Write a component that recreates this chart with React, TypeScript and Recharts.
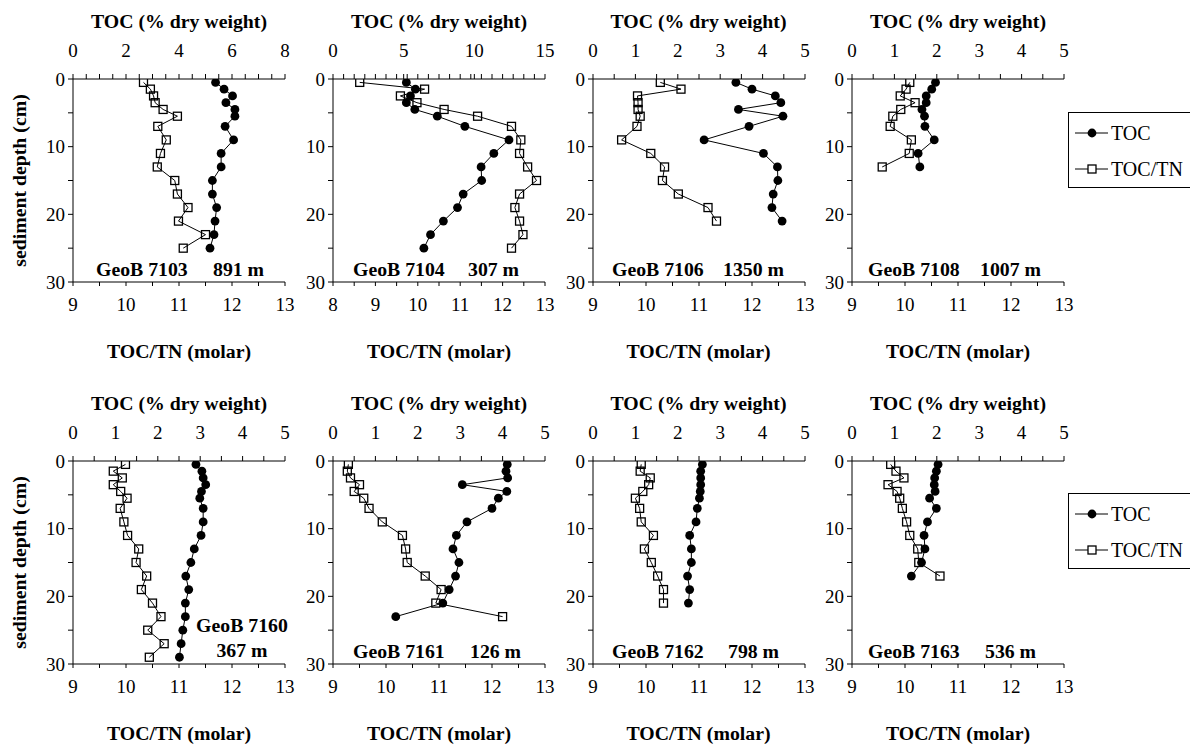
import React from 'react';
import { ScatterChart, Scatter, XAxis, YAxis } from 'recharts';

// ---------- data ----------
const depth7103 = [0.5, 1.5, 2.5, 3.5, 4.5, 5.5, 7, 9, 11, 13, 15, 17, 19, 21, 23, 25];
const toc7103 = [5.38, 5.7, 6.02, 5.77, 6.11, 6.11, 5.74, 6.06, 5.59, 5.59, 5.26, 5.26, 5.42, 5.36, 5.32, 5.17];
const tn7103 = [10.33, 10.46, 10.52, 10.55, 10.7, 10.97, 10.6, 10.76, 10.65, 10.59, 10.92, 10.97, 11.17, 10.99, 11.5, 11.08];

const depth7104 = [0.5, 1.5, 2.5, 3.5, 4.5, 5.5, 7, 9, 11, 13, 15, 17, 19, 21, 23, 25];
const toc7104 = [5.19, 5.83, 5.48, 5.19, 5.79, 7.38, 9.33, 12.45, 11.38, 10.48, 10.52, 9.21, 8.81, 7.81, 6.9, 6.43];
const tn7104 = [8.63, 10.16, 9.59, 9.98, 10.62, 11.41, 12.21, 12.43, 12.4, 12.59, 12.8, 12.4, 12.29, 12.4, 12.48, 12.21];

const depth7106 = [0.5, 1.5, 2.5, 3.5, 4.5, 5.5, 7, 9, 11, 13, 15, 17, 19, 21];
const toc7106 = [3.37, 3.75, 4.3, 4.43, 3.43, 4.48, 3.68, 2.62, 4.02, 4.35, 4.36, 4.25, 4.22, 4.46];
const tn7106 = [10.27, 10.66, 9.84, 9.85, 9.85, 9.89, 9.83, 9.54, 10.09, 10.35, 10.31, 10.61, 11.17, 11.33];

const depth7108 = [0.5, 1.5, 2.5, 3.5, 4.5, 5.5, 7, 9, 11, 13];
const toc7108 = [1.97, 1.88, 1.75, 1.75, 1.65, 1.71, 1.72, 1.94, 1.56, 1.6];
const tn7108 = [10.09, 10.02, 9.91, 10.19, 9.92, 9.77, 9.72, 10.12, 10.08, 9.57];

const depth7160 = [0.5, 1.5, 2.5, 3.5, 4.5, 5.5, 7, 9, 11, 13, 15, 17, 19, 21, 23, 25, 27, 29];
const toc7160 = [2.9, 3.04, 3.07, 3.13, 3.03, 2.99, 3.07, 3.07, 3.02, 2.86, 2.78, 2.66, 2.73, 2.65, 2.65, 2.59, 2.55, 2.51];
const tn7160 = [9.99, 9.76, 9.93, 9.76, 9.9, 10.02, 9.89, 9.96, 10.03, 10.24, 10.19, 10.39, 10.29, 10.5, 10.66, 10.41, 10.72, 10.44];

const depth7161 = [0.5, 1.5, 2.5, 3.5, 4.5, 5.5, 7, 9, 11, 13, 15, 17, 19, 21, 23];
const toc7161 = [4.11, 4.08, 4.12, 3.05, 4.1, 3.9, 3.75, 3.16, 2.91, 2.83, 2.97, 2.89, 2.74, 2.59, 1.48];
const tn7161 = [9.29, 9.27, 9.33, 9.5, 9.4, 9.58, 9.68, 9.93, 10.31, 10.37, 10.4, 10.74, 11.04, 10.94, 12.2];

const depth7162 = [0.5, 1.5, 2.5, 3.5, 4.5, 5.5, 7, 9, 11, 13, 15, 17, 19, 21];
const toc7162 = [2.58, 2.54, 2.54, 2.54, 2.53, 2.51, 2.46, 2.43, 2.28, 2.32, 2.32, 2.23, 2.28, 2.25];
const tn7162 = [9.91, 9.89, 10.08, 10.05, 9.94, 9.8, 9.88, 9.91, 10.14, 9.97, 10.1, 10.22, 10.33, 10.33];

const depth7163 = [0.5, 1.5, 2.5, 3.5, 4.5, 5.5, 7, 9, 11, 13, 15, 17];
const toc7163 = [2.03, 1.99, 1.95, 1.94, 1.96, 1.83, 1.99, 1.78, 1.7, 1.72, 1.64, 1.4];
const tn7163 = [9.73, 9.83, 9.98, 9.68, 9.85, 9.9, 9.95, 10.03, 10.09, 10.24, 10.26, 10.66];

const coreNames = ['GeoB 7103', 'GeoB 7104', 'GeoB 7106', 'GeoB 7108', 'GeoB 7160', 'GeoB 7161', 'GeoB 7162', 'GeoB 7163'];
const waterDepths = ['891 m', '307 m', '1350 m', '1007 m', '367 m', '126 m', '798 m', '536 m'];

const tocTitle = 'TOC (% dry weight)';
const tnTitle = 'TOC/TN (molar)';
const depthTitle = 'sediment depth (cm)';
const legendNames = ['TOC', 'TOC/TN'];

const depthTicks = [0, 5, 10, 15, 20, 25, 30];
const depthLabels = [0, 10, 20, 30];

// ---------- layout ----------
const FONT = '"Times New Roman", "Liberation Serif", serif';
const PLOT_W = 212;
const PLOT_H = 203;
const Y_W = 65;
const TOP_H = 75;
const BOT_H = 80;
const RIGHT_M = 10;
const COL_X = [73, 333, 592.5, 852];
const ROW_Y = [79, 461];
const TITLE_SIZE = 19.8;
const TICK_SIZE = 19;

const steps = (a: number, b: number, s: number) => {
  const out: number[] = [];
  for (let i = 0; a + i * s <= b + 1e-9; i++) out.push(+(a + i * s).toFixed(4));
  return out;
};

type Cfg = {
  depth: number[]; toc: number[]; tn: number[];
  tocMax: number; tocMajor: number[]; tocMinor: number;
  tnMin: number;
  col: number; row: number;
};

const panels: Cfg[] = [
  { depth: depth7103, toc: toc7103, tn: tn7103, tocMax: 8, tocMajor: [0, 2, 4, 6, 8], tocMinor: 0.5, tnMin: 9, col: 0, row: 0 },
  { depth: depth7104, toc: toc7104, tn: tn7104, tocMax: 15, tocMajor: [0, 5, 10, 15], tocMinor: 0.75, tnMin: 8, col: 1, row: 0 },
  { depth: depth7106, toc: toc7106, tn: tn7106, tocMax: 5, tocMajor: [0, 1, 2, 3, 4, 5], tocMinor: 0.5, tnMin: 9, col: 2, row: 0 },
  { depth: depth7108, toc: toc7108, tn: tn7108, tocMax: 5, tocMajor: [0, 1, 2, 3, 4, 5], tocMinor: 0.5, tnMin: 9, col: 3, row: 0 },
  { depth: depth7160, toc: toc7160, tn: tn7160, tocMax: 5, tocMajor: [0, 1, 2, 3, 4, 5], tocMinor: 0.5, tnMin: 9, col: 0, row: 1 },
  { depth: depth7161, toc: toc7161, tn: tn7161, tocMax: 5, tocMajor: [0, 1, 2, 3, 4, 5], tocMinor: 0.5, tnMin: 9, col: 1, row: 1 },
  { depth: depth7162, toc: toc7162, tn: tn7162, tocMax: 5, tocMajor: [0, 1, 2, 3, 4, 5], tocMinor: 0.5, tnMin: 9, col: 2, row: 1 },
  { depth: depth7163, toc: toc7163, tn: tn7163, tocMax: 5, tocMajor: [0, 1, 2, 3, 4, 5], tocMinor: 0.5, tnMin: 9, col: 3, row: 1 },
];

const DotShape = (p: any) => <circle cx={p.cx} cy={p.cy} r={4.4} fill="#000" />;
const SquareShape = (p: any) => (
  <rect x={p.cx - 4} y={p.cy - 4} width={8} height={8} fill="none" stroke="#000" strokeWidth={1.3} />
);

const tickStyle = { fill: '#000', fontSize: TICK_SIZE, fontFamily: FONT };
const axisStroke = { stroke: '#000', strokeWidth: 1 };

function Panel({ cfg }: { cfg: Cfg }) {
  const data = cfg.depth.map((d, i) => ({ depth: d, toc: cfg.toc[i], tn: cfg.tn[i] }));
  const plotLeft = COL_X[cfg.col];
  const plotTop = ROW_Y[cfg.row];
  const tocTicks = Array.from(new Set([...steps(0, cfg.tocMax, cfg.tocMinor), ...cfg.tocMajor])).sort((a, b) => a - b);
  const tnTicks = steps(cfg.tnMin, 13, 0.5);
  const tnMajor = steps(cfg.tnMin, 13, 1);
  return (
    <div style={{ position: 'absolute', left: plotLeft - Y_W, top: plotTop - TOP_H }}>
      <ScatterChart
        width={Y_W + PLOT_W + RIGHT_M}
        height={TOP_H + PLOT_H + BOT_H}
        margin={{ top: 0, right: RIGHT_M, bottom: 0, left: 0 }}
      >
        <XAxis
          xAxisId="toc"
          orientation="top"
          type="number"
          dataKey="toc"
          domain={[0, cfg.tocMax]}
          ticks={tocTicks}
          interval={0}
          tickFormatter={(v: number) => (cfg.tocMajor.includes(v) ? String(v) : '')}
          height={TOP_H}
          tickSize={5}
          tickMargin={17}
          axisLine={axisStroke}
          tickLine={axisStroke}
          tick={tickStyle}
          allowDataOverflow
        />
        <XAxis
          xAxisId="tn"
          orientation="bottom"
          type="number"
          dataKey="tn"
          domain={[cfg.tnMin, 13]}
          ticks={tnTicks}
          interval={0}
          tickFormatter={(v: number) => (tnMajor.includes(v) ? String(v) : '')}
          height={BOT_H}
          tickSize={4}
          tickMargin={12}
          axisLine={axisStroke}
          tickLine={axisStroke}
          tick={tickStyle}
          allowDataOverflow
        />
        <YAxis
          type="number"
          dataKey="depth"
          domain={[0, 30]}
          reversed
          ticks={depthTicks}
          interval={0}
          tickFormatter={(v: number) => (depthLabels.includes(v) ? String(v) : '')}
          width={Y_W}
          tickSize={5}
          tickMargin={3}
          axisLine={axisStroke}
          tickLine={axisStroke}
          tick={tickStyle}
          allowDataOverflow
        />
        <Scatter
          name="TOC/TN"
          xAxisId="tn"
          data={data}
          shape={SquareShape}
          line={{ stroke: '#000', strokeWidth: 1 }}
          isAnimationActive={false}
        />
        <Scatter
          name="TOC"
          xAxisId="toc"
          data={data}
          shape={DotShape}
          line={{ stroke: '#000', strokeWidth: 1 }}
          isAnimationActive={false}
        />
      </ScatterChart>
    </div>
  );
}

const coreLabelPos = [
  { x: 96, x2: 213 },
  { x: 353, x2: 468 },
  { x: 612, x2: 723 },
  { x: 868, x2: 980 },
  { x: 0, x2: 0 },
  { x: 353, x2: 470 },
  { x: 612, x2: 728 },
  { x: 868, x2: 985 },
];

function Legend({ top }: { top: number }) {
  return (
    <g>
      <rect x={1068.5} y={top + 0.5} width={140} height={75} fill="#fff" stroke="#000" strokeWidth={1} />
      <line x1={1075} x2={1108} y1={top + 21} y2={top + 21} stroke="#000" />
      <circle cx={1092} cy={top + 21} r={4.4} fill="#000" />
      <text x={1111} y={top + 27.5} fontSize={20} fontFamily={FONT}>{legendNames[0]}</text>
      <line x1={1075} x2={1108} y1={top + 57} y2={top + 57} stroke="#000" />
      <rect x={1088} y={top + 53} width={8} height={8} fill="#fff" stroke="#000" strokeWidth={1.3} />
      <text x={1111} y={top + 63.5} fontSize={20} fontFamily={FONT}>{legendNames[1]}</text>
    </g>
  );
}

export default function App() {
  return (
    <div style={{ position: 'absolute', left: 0, top: 0, width: 1190, height: 745, background: '#fff', overflow: 'hidden' }}>
      {panels.map((p, i) => (
        <Panel key={i} cfg={p} />
      ))}
      <svg width={1190} height={745} style={{ position: 'absolute', left: 0, top: 0, pointerEvents: 'none' }}>
        {panels.map((p, i) => {
          const pl = COL_X[p.col];
          const pt = ROW_Y[p.row];
          const pb = pt + PLOT_H;
          const cx = pl + PLOT_W / 2;
          return (
            <g key={i} fontFamily={FONT} fill="#000">
              <text x={cx} y={pt - 51} textAnchor="middle" fontSize={TITLE_SIZE} fontWeight="bold">{tocTitle}</text>
              <text x={cx} y={pb + 76} textAnchor="middle" fontSize={TITLE_SIZE} fontWeight="bold">{tnTitle}</text>
              {i === 4 ? (
                <g fontSize={TITLE_SIZE} fontWeight="bold">
                  <text x={242} y={pb - 32} textAnchor="middle">{coreNames[i]}</text>
                  <text x={242} y={pb - 7} textAnchor="middle">{waterDepths[i]}</text>
                </g>
              ) : (
                <g fontSize={TITLE_SIZE} fontWeight="bold">
                  <text x={coreLabelPos[i].x} y={pb - 6}>{coreNames[i]}</text>
                  <text x={coreLabelPos[i].x2} y={pb - 6}>{waterDepths[i]}</text>
                </g>
              )}
            </g>
          );
        })}
        {ROW_Y.map((t, i) => (
          <text
            key={i}
            x={0}
            y={0}
            transform={`translate(26, ${t + PLOT_H / 2}) rotate(-90)`}
            textAnchor="middle"
            fontSize={TITLE_SIZE}
            fontWeight="bold"
            fontFamily={FONT}
          >
            {depthTitle}
          </text>
        ))}
        <Legend top={112} />
        <Legend top={493} />
      </svg>
    </div>
  );
}
